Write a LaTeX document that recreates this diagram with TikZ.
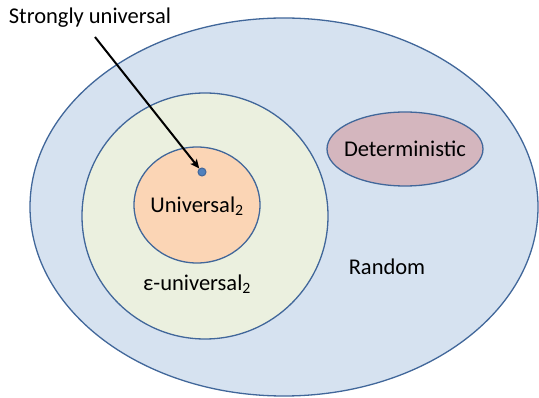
\documentclass[tikz,border=0pt]{standalone}
\usepackage{fontspec}
\setmainfont{Carlito}
\usetikzlibrary{arrows.meta,shapes.geometric}
\definecolor{edge}{HTML}{41679A}
\definecolor{bluefill}{HTML}{D6E2F0}
\definecolor{greenfill}{HTML}{EBF0DF}
\definecolor{orangefill}{HTML}{FBD5B5}
\definecolor{pinkfill}{HTML}{D4B6BE}
\definecolor{dotfill}{HTML}{4F81BD}
\begin{document}
\begin{tikzpicture}[x=1pt,y=-1pt,
  region/.style={ellipse,draw=edge,line width=1.3pt,inner sep=0pt,outer sep=0pt},
  lbl/.style={font=\fontsize{22.5}{26}\selectfont,text=black,inner sep=0pt}]
\useasboundingbox (0,0) rectangle (539,398);
\node[region,fill=bluefill,minimum width=508pt,minimum height=378pt] (random) at (284,207) {};
\node[region,fill=greenfill,minimum width=246pt,minimum height=246pt] (epsreg) at (205,216) {};
\node[region,fill=orangefill,minimum width=126pt,minimum height=116pt] (univreg) at (197,205) {};
\node[region,fill=pinkfill,minimum width=156pt,minimum height=74pt] (detreg) at (405,149) {};
\node[circle,fill=dotfill,draw=edge,line width=1pt,minimum size=8pt,inner sep=0pt] (dot) at (202,172) {};
\node[lbl] (strong) at (90,18) {Strongly universal};
\node[lbl] (univ) at (197,206) {Universal\textsubscript{2}};
\node[lbl] (eps) at (197,284) {ε-universal\textsubscript{2}};
\node[lbl] (det) at (405,149) {Deterministic};
\node[lbl] (rand) at (387,267) {Random};
\draw[line width=2pt,-{Stealth[length=9pt,width=8pt,inset=2pt]}] (95,37) -- (dot);
\end{tikzpicture}
\end{document}
